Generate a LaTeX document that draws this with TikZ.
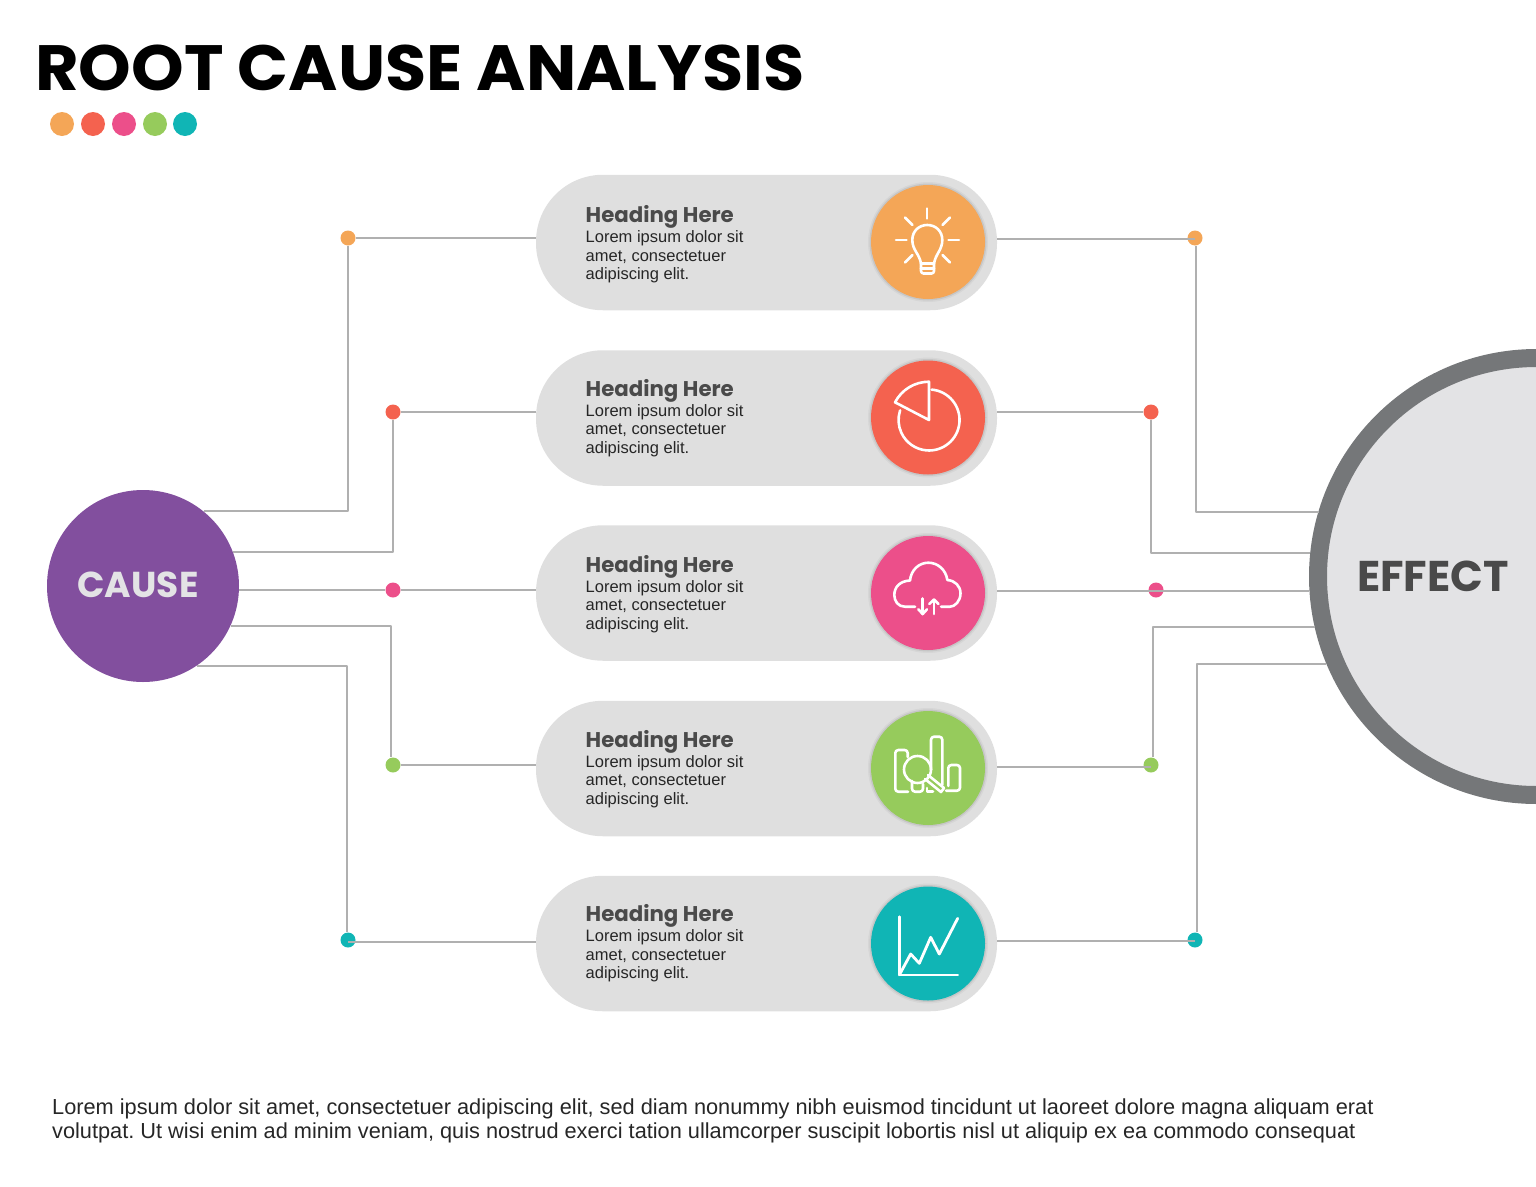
\documentclass[tikz,border=0pt]{standalone}
\usepackage{fontspec}
\usepackage{xcolor}
\usepackage{tikz}
\usetikzlibrary{arrows.meta, positioning}
\setmainfont{Liberation Sans}
\newfontfamily\headfont{Poppins}
\newfontfamily\titlefont[FakeStretch=1.046]{Poppins}
\frenchspacing
\definecolor{rcaorange}{HTML}{F4A657}
\definecolor{rcared}{HTML}{F4624F}
\definecolor{rcapink}{HTML}{EC4F8A}
\definecolor{rcagreen}{HTML}{96CB5C}
\definecolor{rcateal}{HTML}{10B5B5}
\definecolor{rcapurple}{HTML}{824F9E}
\definecolor{rcaring}{HTML}{757779}
\definecolor{rcadisc}{HTML}{E3E3E5}
\definecolor{rcapill}{HTML}{DFDFDF}
\definecolor{rcaline}{HTML}{B0B0B0}
\definecolor{rcahead}{HTML}{4A4A4A}
\tikzset{
  pill/.style={draw=none, fill=rcapill, rounded corners=67pt, minimum width=461pt, minimum height=135.5pt, inner sep=0pt},
  badge/.style={circle, preaction={draw=black, draw opacity=.04, line width=6pt}, preaction={draw=black, draw opacity=.07, line width=3pt}, fill=#1, minimum size=114pt, inner sep=0pt},
  dotnode/.style={circle, fill=#1, minimum size=15pt, inner sep=0pt},
  tinydot/.style={circle, fill=#1, minimum size=24pt, inner sep=0pt},
  heading/.style={anchor=west, inner sep=0pt, text=rcahead, font=\headfont\bfseries\fontsize{21.3}{21.3}\selectfont},
  blurb/.style={anchor=west, inner sep=0pt, align=left, text=black!85, font=\fontsize{16.5}{18.5}\selectfont},
  wire/.style={draw=rcaline, line width=2pt, line join=round},
  iconline/.style={draw=white, line width=2.6pt, line cap=round, line join=round}
}
\begin{document}
\begin{tikzpicture}[x=1pt, y=1pt]
                \useasboundingbox (0,0) rectangle (1536,-1186);

                \node[anchor=west, inner sep=0pt, font=\titlefont\bfseries\fontsize{64}{64}\selectfont] (title) at (35,-68) {ROOT CAUSE ANALYSIS};
                \node[tinydot=rcaorange] (t1) at (62,-124) {};
                \node[tinydot=rcared] (t2) at (93,-124) {};
                \node[tinydot=rcapink] (t3) at (124,-124) {};
                \node[tinydot=rcagreen] (t4) at (155,-124) {};
                \node[tinydot=rcateal] (t5) at (185,-124) {};

                \node[circle, fill=rcapurple, minimum size=192pt, inner sep=0pt] (cause) at (143,-586) {};
                \node[font=\headfont\bfseries\fontsize{36}{36}\selectfont, text=rcadisc] (causetext) at (138,-585) {CAUSE};

                \begin{scope}
                \clip (0,0) rectangle (1536,-1186);
                \node[circle, draw=rcaring, line width=18pt, fill=rcadisc, minimum size=437pt, inner sep=0pt] (effect) at (1536.5,-576.5) {};
                \end{scope}
                \node[font=\headfont\bfseries\fontsize{43}{43}\selectfont, text=rcahead] (effecttext) at (1433,-576) {EFFECT};

                \node[pill] (p1) at (766.5,-242.5) {};
                \node[pill] (p2) at (766.5,-418) {};
                \node[pill] (p3) at (766.5,-593) {};
                \node[pill] (p4) at (766.5,-768.5) {};
                \node[pill] (p5) at (766.5,-943.5) {};

                \node[heading] (h1) at (585.5,-216.5) {Heading Here};
                \node[heading] (h2) at (585.5,-390.5) {Heading Here};
                \node[heading] (h3) at (585.5,-566.5) {Heading Here};
                \node[heading] (h4) at (585.5,-741.5) {Heading Here};
                \node[heading] (h5) at (585.5,-916) {Heading Here};

                \node[blurb] (b1) at (585.5,-257) {Lorem ipsum dolor sit\\amet, consectetuer\\adipiscing elit.};
                \node[blurb] (b2) at (585.5,-430.5) {Lorem ipsum dolor sit\\amet, consectetuer\\adipiscing elit.};
                \node[blurb] (b3) at (585.5,-606.5) {Lorem ipsum dolor sit\\amet, consectetuer\\adipiscing elit.};
                \node[blurb] (b4) at (585.5,-781.5) {Lorem ipsum dolor sit\\amet, consectetuer\\adipiscing elit.};
                \node[blurb] (b5) at (585.5,-956) {Lorem ipsum dolor sit\\amet, consectetuer\\adipiscing elit.};

                \node[badge=rcaorange] (i1) at (928,-242) {};
                \node[badge=rcared] (i2) at (928,-417.5) {};
                \node[badge=rcapink] (i3) at (928,-593) {};
                \node[badge=rcagreen] (i4) at (928,-768) {};
                \node[badge=rcateal] (i5) at (928,-943.5) {};

                \node[dotnode=rcaorange] (l1) at (348,-238) {};
                \node[dotnode=rcared] (l2) at (393,-412) {};
                \node[dotnode=rcapink] (l3) at (393,-590) {};
                \node[dotnode=rcagreen] (l4) at (393,-765) {};
                \node[dotnode=rcateal] (l5) at (348,-940) {};
                \node[dotnode=rcaorange] (r1) at (1195,-238) {};
                \node[dotnode=rcared] (r2) at (1151,-412) {};
                \node[dotnode=rcapink] (r3) at (1156,-590) {};
                \node[dotnode=rcagreen] (r4) at (1151,-765) {};
                \node[dotnode=rcateal] (r5) at (1195,-940) {};

                \draw[wire] (cause.51.4) -| (l1);
                \draw[wire] (cause.21.4) -| (l2);
                \draw[wire] (l3 -| cause.east) -- (l3);
                \draw[wire] ([yshift=-1pt]cause.-24.9) -| ([xshift=-2pt]l4.north);
                \draw[wire] (cause.-56.4) -| ([xshift=-1pt]l5.north);

                \draw[wire] (l1) -- (l1 -| p1.west);
                \draw[wire] (l2) -- (l2 -| p2.west);
                \draw[wire] (l3) -- (l3 -| p3.west);
                \draw[wire] (l4) -- (l4 -| p4.west);
                \draw[wire] ([yshift=-2pt]l5.center) -- ([yshift=-2pt]l5.center -| p5.west);

                \draw[wire] ([yshift=-1pt]r1.center -| p1.east) -- ([yshift=-1pt]r1.center);
                \draw[wire] (r2 -| p2.east) -- (r2);
                \draw[wire] ([yshift=-1pt]r3.center -| p3.east) -- ([yshift=-1pt]r3.center);
                \draw[wire] ([yshift=-2pt]r4.center -| p4.east) -- ([yshift=-2pt]r4.center);
                \draw[wire] ([yshift=-1pt]r5.center -| p5.east) -- ([yshift=-1pt]r5.center);

                \draw[wire] ([xshift=1pt]r1.south) |- ([yshift=-2pt]effect.163.75);
                \draw[wire] (r2) |- (effect.174.4);
                \draw[wire] ([yshift=-1pt]r3.center) -- ([yshift=-1pt]r3.center -| effect.west);
                \draw[wire] ([xshift=2pt]r4.north) |- ([yshift=1pt]effect.193.4);
                \draw[wire] ([xshift=2pt]r5.north) |- ([yshift=-2pt]effect.202.9);

                \draw[iconline] (927,-208.5) -- (927,-218.5);
                \draw[iconline] (896,-240) -- (906.5,-240);
                \draw[iconline] (948.5,-240) -- (959,-240);
                \draw[iconline] (905,-217.5) -- (912.5,-225);
                \draw[iconline] (950,-217.5) -- (942.5,-225);
                \draw[iconline] (905,-262.5) -- (912.5,-255);
                \draw[iconline] (950,-262.5) -- (942.5,-255);
                \draw[iconline] (921,-263.5) .. controls (919.5,-254) and (912.3,-250) .. (912.3,-240) .. controls (912.3,-231) and (919,-225) .. (927.3,-225) .. controls (935.5,-225) and (942.3,-231) .. (942.3,-240) .. controls (942.3,-250) and (935.5,-254) .. (934,-263.5) -- cycle;
                \draw[iconline, rounded corners=2.5pt] (921,-263.5) -- (921,-273.5) -- (934,-273.5) -- (934,-263.5);
                \draw[iconline] (921,-268.5) -- (934,-268.5);

                \draw[iconline] (929,-420) -- (929,-381.7) arc (90:152.5:38.3) -- cycle;
                \draw[iconline] (931.7,-389.6) arc (85:-198.4:30.5);

                \draw[iconline] (915,-606.7) -- (905,-606.7) .. controls (898,-606.7) and (894.3,-601) .. (894.3,-595) .. controls (894.3,-587) and (900,-581) .. (910,-580.5) .. controls (911,-570) and (919,-562.7) .. (928.3,-562.7) .. controls (938,-562.7) and (946,-570) .. (947.3,-580) .. controls (955,-580.5) and (960.5,-586) .. (960.5,-593.3) .. controls (960.5,-601) and (955,-606.7) .. (950,-606.7) -- (941,-606.7);
                \draw[iconline] (922.7,-598.5) -- (922.7,-614);
                \draw[iconline] (918.3,-609.3) -- (922.7,-614) -- (927,-609.3);
                \draw[iconline] (934,-614) -- (934,-599.5);
                \draw[iconline] (929.3,-604) -- (934,-599.5) -- (938.5,-604);

                \draw[iconline, rounded corners=3pt] (908,-791.7) -- (895.3,-791.7) -- (895.3,-750) -- (907.7,-750) -- (907.7,-757);
                \draw[iconline, rounded corners=3pt] (912,-781) -- (912,-791.7) -- (923,-791.7) -- (923,-784);
                \draw[iconline] (927,-788) -- (927,-791.7) -- (933,-791.7);
                \draw[iconline, rounded corners=3pt] (931,-770) -- (931,-736.7) -- (942.3,-736.7) -- (942.3,-785);
                \draw[iconline, rounded corners=3pt] (948.3,-786) -- (948.3,-765) -- (960,-765) -- (960,-790.7) -- (946,-790.7);
                \draw[iconline] (917.5,-769.5) circle (13.5);
                \draw[iconline] (928,-775) -- (944,-788) -- (941,-792) -- (925,-779);

                \draw[iconline, line width=2.8pt] (899.3,-916.7) -- (899.3,-975) -- (957.7,-975);
                \draw[iconline, line width=2.8pt] (899.3,-975) -- (910.7,-954) -- (919.3,-963.3) -- (930.7,-937.3) -- (939.3,-954) -- (957.7,-918.3);

                \node[anchor=north west, inner sep=0pt, align=left, text=black!85, font=\fontsize{21.75}{24.5}\selectfont] (foot) at (52,-1098.5) {Lorem ipsum dolor sit amet, consectetuer adipiscing elit, sed diam nonummy nibh euismod tincidunt ut laoreet dolore magna aliquam erat\\volutpat. Ut wisi enim ad minim veniam, quis nostrud exerci tation ullamcorper suscipit lobortis nisl ut aliquip ex ea commodo consequat};
            \end{tikzpicture}
\end{document}
